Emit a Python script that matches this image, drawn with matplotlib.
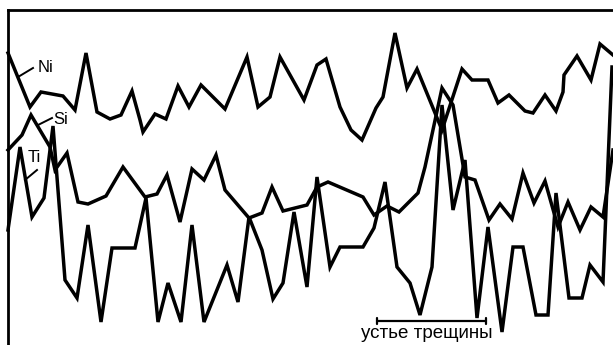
import numpy as np
import matplotlib
matplotlib.use("Agg")
import matplotlib.pyplot as plt

plt.rcParams['font.family'] = ['Liberation Sans', 'DejaVu Sans']

# positions along the scan (arbitrary units) and relative intensities
ni_x = [8, 30, 41, 63, 75, 86, 97, 110, 121, 132, 140, 143, 155, 166, 178, 189, 201,
        225, 247, 258, 270, 280, 304, 317, 326, 340, 351, 362, 376, 383, 395, 407, 417,
        442, 462, 472, 488, 498, 509, 525, 533, 545, 556, 563, 564, 577, 591, 600, 613]
ni_y = [292, 238, 253, 249, 235, 292, 233, 226, 230, 254, 225, 213, 231, 226, 259, 238, 260,
        236, 288, 238, 248, 288, 245, 280, 286, 238, 215, 205, 237, 248, 312, 257, 276,
        215, 276, 265, 265, 242, 250, 234, 232, 250, 234, 253, 270, 289, 265, 301, 290]

si_x = [8, 22, 31, 50, 55, 67, 78, 88, 106, 123, 145, 157, 167, 180, 192, 204, 216,
        225, 249, 262, 272, 283, 307, 317, 328, 363, 374, 387, 399, 418, 425, 442, 453,
        465, 475, 489, 500, 512, 523, 534, 545, 558, 568, 580, 591, 603, 613]
si_y = [195, 210, 230, 198, 175, 192, 143, 141, 149, 178, 148, 151, 170, 123, 176, 165, 190,
        155, 127, 132, 158, 134, 140, 158, 163, 148, 130, 139, 133, 152, 178, 257, 240,
        168, 165, 125, 141, 126, 172, 142, 164, 118, 143, 115, 138, 128, 195]

ti_x = [8, 20, 32, 44, 53, 65, 77, 88, 101, 112, 135, 146, 158, 168, 181, 192, 204,
        227, 238, 249, 262, 273, 283, 294, 307, 317, 330, 340, 363, 374, 385, 397, 410,
        420, 432, 442, 453, 465, 477, 488, 502, 513, 523, 536, 548, 556, 569, 582, 590,
        603, 612]
ti_y = [115, 198, 128, 147, 219, 65, 47, 120, 23, 97, 97, 147, 23, 62, 23, 120, 23,
        80, 43, 128, 95, 46, 62, 133, 58, 168, 78, 98, 98, 117, 163, 78, 62,
        30, 78, 240, 135, 185, 27, 118, 13, 98, 98, 30, 30, 152, 47, 47, 80,
        63, 278]

crack_start, crack_end = 377, 486

fig = plt.figure(figsize=(6.13, 3.45), dpi=100)
ax = fig.add_axes([8 / 613, 0, 605 / 613, 335 / 345])

for xs, ys in [(ni_x, ni_y), (si_x, si_y), (ti_x, ti_y)]:
    ax.plot(xs, ys, color='black', lw=2.5, solid_joinstyle='miter', clip_on=False)

# labels with leader lines
ax.plot([18, 33], [268, 277], color='black', lw=1.4)
ax.text(38, 278, 'Ni', fontsize=12, va='center', ha='left')
ax.plot([38, 52], [220, 227], color='black', lw=1.4)
ax.text(53, 225, 'Si', fontsize=12, va='center', ha='left')
ax.plot([25, 37], [165, 175], color='black', lw=1.4)
ax.text(28, 188, 'Ti', fontsize=12, va='center', ha='left')

# crack mouth marker
ax.annotate('', xy=(crack_start, 24), xytext=(crack_end, 24),
            arrowprops=dict(arrowstyle='|-|, widthA=0.25, widthB=0.25',
                            lw=1.6, color='black', shrinkA=0, shrinkB=0))
ax.text((crack_start + crack_end) / 2 - 5, 6.5, 'устье трещины', fontsize=13.5,
        ha='center', va='baseline')

ax.set_xlim(8, 613)
ax.set_ylim(0, 335)
ax.set_xticks([])
ax.set_yticks([])
ax.spines['right'].set_visible(False)
ax.spines['bottom'].set_visible(False)
ax.spines['top'].set_linewidth(2)
ax.spines['left'].set_linewidth(2)

fig.savefig('out.png', dpi=100)
